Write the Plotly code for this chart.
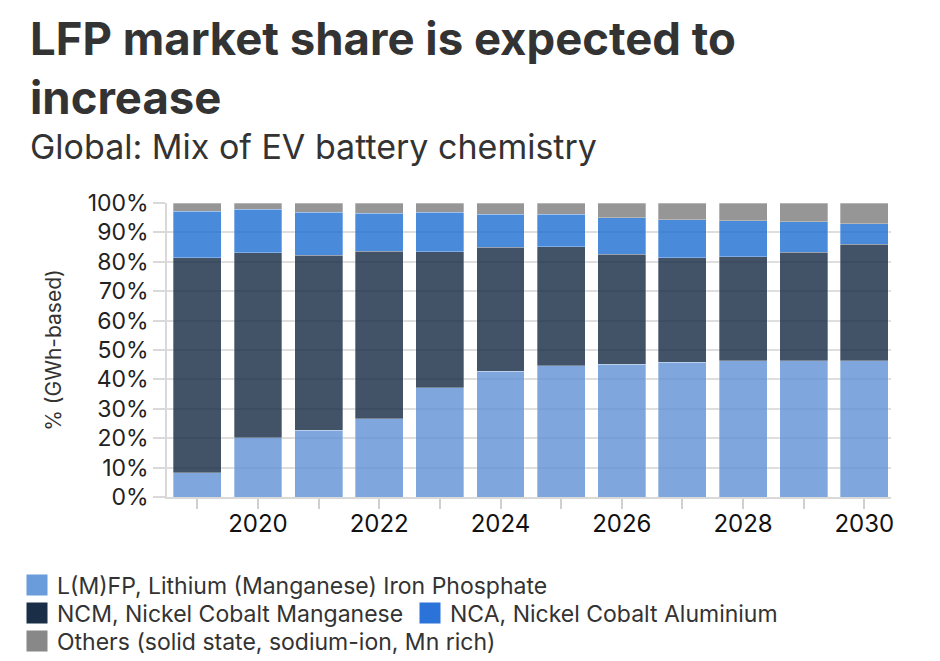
import plotly.graph_objects as go

years = [2019, 2020, 2021, 2022, 2023, 2024, 2025, 2026, 2027, 2028, 2029, 2030]
lfp = [8.3, 20.1, 22.7, 26.6, 37.2, 42.7, 44.7, 45.2, 45.9, 46.3, 46.3, 46.3]
ncm = [73.1, 63.0, 59.6, 57.0, 46.2, 42.3, 40.5, 37.3, 35.4, 35.5, 36.9, 39.7]
nca = [15.8, 14.7, 14.5, 12.9, 13.5, 11.1, 10.9, 12.5, 13.0, 12.2, 10.5, 7.0]
others = [2.8, 2.2, 3.2, 3.5, 3.1, 3.9, 3.9, 5.0, 5.7, 6.0, 6.3, 7.0]

x_tick_vals = years
x_tick_text = ["", "2020", "", "2022", "", "2024", "", "2026", "", "2028", "", "2030"]
y_tick_vals = [0, 10, 20, 30, 40, 50, 60, 70, 80, 90, 100]
y_tick_text = ["0%", "10%", "20%", "30%", "40%", "50%", "60%", "70%", "80%", "90%", "100%"]

series = [
    ("L(M)FP, Lithium (Manganese) Iron Phosphate", lfp, "#6092D6", "#6A9BDB", "legend"),
    ("NCM, Nickel Cobalt Manganese", ncm, "#142943", "#1A2E48", "legend2"),
    ("NCA, Nickel Cobalt Aluminium", nca, "#1D6DD2", "#2B73D8", "legend2"),
    ("Others (solid state, sodium-ion, Mn rich)", others, "#7C7C7C", "#888888", "legend3"),
]

FONT = "Inter"
TXT = "#333333"
W, H = 940, 661
ML, MR, MT, MB = 167, 49, 203, 164
PW, PH = W - ML - MR, H - MT - MB


def px_x(px):
    return (px - ML) / PW


def px_y(py):
    return (H - MB - py) / PH


fig = go.Figure()
for name, vals, color, lcolor, lg in series:
    fig.add_trace(go.Bar(
        x=years, y=vals, name=name, showlegend=False,
        marker=dict(color=color, opacity=0.8, line=dict(width=0.5, color="rgba(255,255,255,0.6)")),
        width=0.79,
    ))
# legend-only entries (no data points)
for name, vals, color, lcolor, lg in series:
    fig.add_trace(go.Scatter(
        x=[None], y=[None], name=name, legend=lg, mode="markers", showlegend=True,
        marker=dict(symbol="square", size=16, color=lcolor, line=dict(width=5, color=lcolor)),
        hoverinfo="skip",
    ))

leg_common = dict(orientation="h", xref="paper", yref="paper", x=px_x(17), xanchor="left",
                  yanchor="middle", font=dict(family=FONT, size=23, color=TXT),
                  bgcolor="rgba(0,0,0,0)", itemclick=False, traceorder="normal")

fig.update_layout(
    width=W, height=H,
    margin=dict(l=ML, r=MR, t=MT, b=MB, autoexpand=False),
    barmode="stack",
    showlegend=True,
    plot_bgcolor="white", paper_bgcolor="white",
    font=dict(family=FONT, color=TXT),
    annotations=[
        dict(text="<b>LFP market share is expected to<br>increase</b>",
             x=px_x(28), xref="paper", y=px_y(9), yref="paper",
             xanchor="left", yanchor="top", align="left", showarrow=False,
             font=dict(family=FONT, size=45.5, color=TXT)),
        dict(text="Global: Mix of EV battery chemistry",
             x=px_x(28), xref="paper", y=px_y(124), yref="paper",
             xanchor="left", yanchor="top", align="left", showarrow=False,
             font=dict(family=FONT, size=34, color=TXT)),
    ],
    xaxis=dict(range=[2018.5, 2030.44], tickvals=x_tick_vals, ticktext=x_tick_text,
               ticks="outside", ticklen=10, tickcolor="#d0d0d0", tickwidth=1.5,
               ticklabelstandoff=-6,
               showline=True, linecolor="#d9d9d9", linewidth=1.5, showgrid=False,
               tickfont=dict(family=FONT, size=24, color="#111111")),
    yaxis=dict(range=[0, 100], tickvals=y_tick_vals, ticktext=y_tick_text,
               ticks="outside", ticklen=12, tickcolor="#d9d9d9", tickwidth=1.5,
               showline=True, linecolor="#d9d9d9", linewidth=1.5,
               showgrid=True, gridcolor="#dedede", gridwidth=1.5, zeroline=False,
               tickfont=dict(family=FONT, size=23, color="#222222"),
               title=dict(text="% (GWh-based)", standoff=20,
                          font=dict(family=FONT, size=21, color=TXT))),
    legend=dict(**leg_common, y=px_y(585)),
    legend2=dict(**leg_common, y=px_y(613), entrywidth=348, entrywidthmode="pixels"),
    legend3=dict(**leg_common, y=px_y(641)),
)

fig.write_html("out.html")
